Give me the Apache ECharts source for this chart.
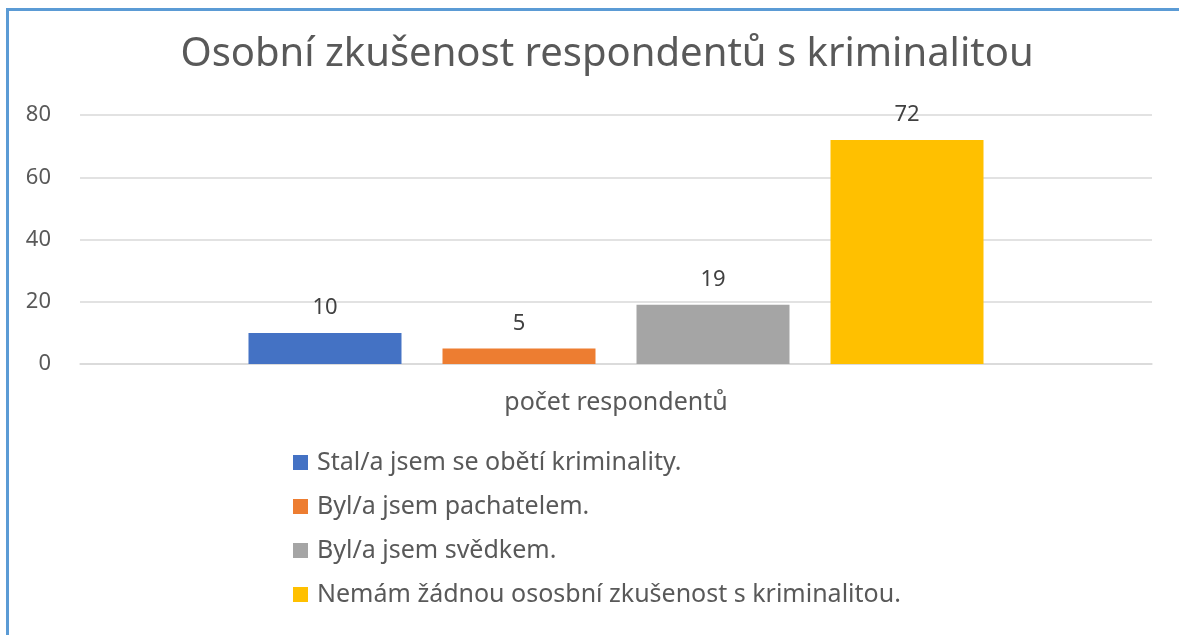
<!DOCTYPE html>
<html>
<head>
<meta charset="utf-8">
<script src="https://cdn.jsdelivr.net/npm/echarts@6/dist/echarts.min.js"></script>
<style>
  html, body { margin: 0; padding: 0; background: #fff; }
  #chart { width: 1179px; height: 635px; }
</style>
</head>
<body>
<div id="chart"></div>
<script>
;(function() {
    var categories = ['počet respondentů'];
    var seriesNames = [
        'Stal/a jsem se obětí kriminality.',
        'Byl/a jsem pachatelem.',
        'Byl/a jsem svědkem.',
        'Nemám žádnou ososbní zkušenost s kriminalitou.'
    ];
    var seriesValues = [[10], [5], [19], [72]];
    var colors = ['#4472C4', '#ED7D31', '#A5A5A5', '#FFC000'];
    var font = '"Noto Sans", "Open Sans", sans-serif';

    var series = seriesNames.map(function (name, i) {
        return {
            name: name,
            type: 'bar',
            data: seriesValues[i],
            barWidth: 153,
            barGap: '26.8%',
            itemStyle: { color: colors[i] },
            label: {
                show: true,
                position: 'top',
                distance: 14,
                color: '#404040',
                fontSize: 22,
                fontFamily: font
            }
        };
    });

    var chart = echarts.init(document.getElementById('chart'));
    chart.setOption({
        animation: false,
        title: {
            text: 'Osobní zkušenost respondentů s kriminalitou',
            left: 602,
            textAlign: 'center',
            top: 30,
            textStyle: { color: '#595959', fontSize: 40, fontWeight: 'normal', fontFamily: font }
        },
        graphic: [
            { type: 'line', shape: { x1: 6, y1: 9.5, x2: 1179, y2: 9.5 }, style: { stroke: '#5B9BD5', lineWidth: 3 } },
            { type: 'line', shape: { x1: 7.5, y1: 8, x2: 7.5, y2: 635 }, style: { stroke: '#5B9BD5', lineWidth: 3 } }
        ],
        legend: {
            orient: 'vertical',
            left: 288,
            top: 445,
            itemWidth: 15,
            itemHeight: 15,
            itemGap: 19,
            icon: 'rect',
            textStyle: { color: '#595959', fontSize: 25, fontFamily: font, padding: [0, 0, 0, 4] },
            data: seriesNames
        },
        grid: { left: 80, right: 27, top: 115, bottom: 271 },
        xAxis: {
            type: 'category',
            data: categories,
            axisLine: { lineStyle: { color: '#D9D9D9', width: 1.5 } },
            axisTick: { show: false },
            axisLabel: { color: '#595959', fontSize: 25, fontFamily: font, margin: 26 }
        },
        yAxis: {
            type: 'value',
            min: 0,
            max: 80,
            interval: 20,
            axisLine: { show: false },
            axisTick: { show: false },
            splitLine: { lineStyle: { color: '#D9D9D9', width: 1.5 } },
            axisLabel: { color: '#595959', fontSize: 22, fontFamily: font, margin: 29 }
        },
        series: series
    });
})();
</script>
</body>
</html>
